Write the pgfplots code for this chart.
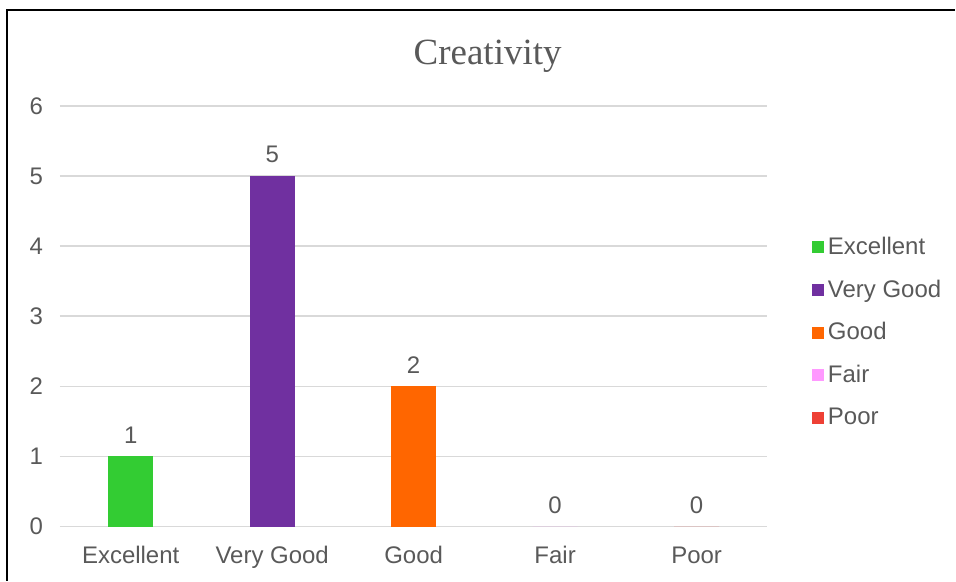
\documentclass[border=0pt]{standalone}
\usepackage{pgfplots}
\pgfplotsset{compat=1.18}
\usepackage{fontspec}
\setmainfont{Liberation Sans}
\newfontfamily\titlefont{Liberation Serif}
\definecolor{txt}{HTML}{595959}
\definecolor{gridc}{HTML}{D9D9D9}
\definecolor{cExc}{HTML}{33CC33}
\definecolor{cVG}{HTML}{7030A0}
\definecolor{cGood}{HTML}{FF6600}
\definecolor{cFair}{HTML}{FF99FF}
\definecolor{cPoor}{HTML}{EE4035}
\begin{document}
\begin{tikzpicture}
\path (0,0) rectangle (478pt,290.5pt);
\draw[line width=0.8pt] (3.5pt,0) -- (3.5pt,285.5pt) -- (478pt,285.5pt);
\node[font=\titlefont\fontsize{18.5}{21}\selectfont, text=txt] at (244pt,262.5pt) {Creativity};
\begin{axis}[
  at={(30pt,27pt)}, anchor=south west,
  scale only axis, width=354pt, height=210.5pt,
  xmin=-0.5, xmax=4.5, ymin=0, ymax=6,
  xtick={0,1,2,3,4},
  xticklabels={Excellent,Very Good,Good,Fair,Poor},
  ytick={0,1,2,3,4,5,6},
  ymajorgrids, grid style={gridc, line width=0.8pt},
  axis line style={draw=none},
  major tick length=0pt,
  /pgf/number format/assume math mode=true,
  tick label style={font=\fontsize{12}{14}\selectfont, text=txt},
  yticklabel style={xshift=-5pt},
  xticklabel style={yshift=-6.5pt},
  ybar, bar width=22.5pt, bar shift=0pt,
  nodes near coords,
  every node near coord/.append style={font=\fontsize{12}{14}\selectfont, text=txt, yshift=3pt},
  legend style={at={(1.054,0.462)}, anchor=west, draw=none, fill=none,
    font=\fontsize{12}{14}\selectfont, text=txt, row sep=7.2pt,
    /tikz/every even column/.append style={column sep=0pt}},
  legend cell align=left,
  legend image code/.code={\fill[#1] (0pt,-3pt) rectangle (6pt,3pt);},
]
\addplot[fill=cExc, draw=none] coordinates {(0,1)};
\addlegendentry{Excellent}
\addplot[fill=cVG, draw=none] coordinates {(1,5)};
\addlegendentry{Very Good}
\addplot[fill=cGood, draw=none] coordinates {(2,2)};
\addlegendentry{Good}
\addplot[fill=cFair, draw=none] coordinates {(3,0)};
\addlegendentry{Fair}
\addplot[fill=cPoor, draw=none] coordinates {(4,0)};
\addlegendentry{Poor}
\end{axis}
\end{tikzpicture}
\end{document}
